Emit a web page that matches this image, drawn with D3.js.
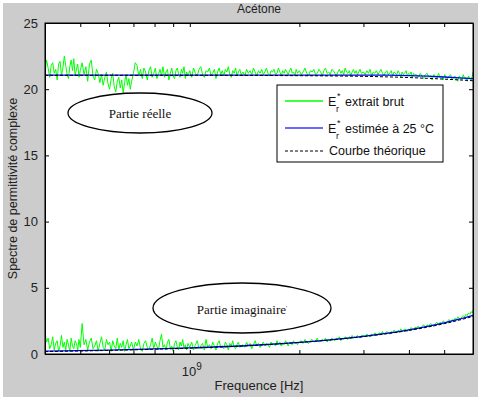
<!DOCTYPE html>
<html lang="fr">
<head>
<meta charset="utf-8">
<title>Acétone</title>
<script src="https://d3js.org/d3.v7.min.js"></script>
<style>
  body { margin: 0; background: #fff; }
  svg { display: block; font-family: "Liberation Sans", Arial, sans-serif; }
  .axis path { stroke: #000; }
  .axis line { stroke: #000; }
  .axis text { font-size: 13px; fill: #222; }
</style>
</head>
<body>
<script>
// frequencies of the raw measurement (MHz)
var freqMHz = [
  400,404,408,412,416,420,424,428,432,436,440,444,448,452,456,460,464,468,472,476,480,484,488,492,496,
  500,506,512,518,524,530,536,542,548,554,560,566,572,578,584,590,596,602,608,614,620,626,632,638,644,650,656,662,668,674,680,686,692,
  700,708,716,724,732,740,748,756,764,772,780,788,796,804,812,820,828,836,844,852,860,868,876,884,892,900,908,916,924,932,940,948,956,964,972,980,988,
  1000,1012,1024,1036,1048,1060,1072,1084,1096,1108,1120,1132,1144,1156,1168,1180,1192,1204,1216,1228,1240,1252,1264,1276,1288,1300,1312,1324,1336,1348,1360,1372,1384,
  1400,1416,1432,1448,1464,1480,1496,1512,1528,1544,1560,1576,1592,1608,1624,1640,1656,1672,1688,1704,1720,1736,1752,1768,1784,1800,1816,1832,1848,1864,1880,1896,1912,1928,1944,1960,1976,
  2000,2024,2048,2072,2096,2120,2144,2168,2192,2216,2240,2264,2288,2312,2336,2360,2384,2408,2432,2456,2480,2504,2528,2552,2576,2600,2624,2648,2672,2696,2720,2744,2768,2792,2816,2840,2864,2888,2912,2936,2960,
  3000,3032,3064,3096,3128,3160,3192,3224,3256,3288,3320,3352,3384,3416,3448,3480,3512,3544,3576,3608,3640,3672,3704,3736,3768,3800,3832,3864,3896,3928,3960,3992,4024,4056,4088,4120,4152,
  4200,4248,4296,4344,4392,4440,4488,4536,4584,4632,4680,4728,4776,4824,4872,4920,4968,5016,5064,5112,5160,5208,5256,5304,5352,5400,5448,5496,5544,5592,5640,5688,5736,5784,5832,5880,5928,5976,6000
];

// E_r* extrait brut, partie réelle
var rawReal = [
  21.3,22.2,21.6,20.9,21.8,22.0,21.2,21.5,20.7,21.9,22.1,21.0,21.6,22.5,21.8,21.1,20.8,21.7,22.2,21.4,22.3,21.0,21.5,21.9,20.9,
  21.4,22.0,21.1,21.7,20.6,21.9,22.2,21.0,20.7,21.5,21.2,20.5,
  21.1,20.3,20.9,21.3,20.4,20.0,20.8,21.2,20.2,19.8,20.6,20.9,20.1,20.7,19.7,20.5,21.1,20.3,20.8,20.0,20.6,
  21.2,22.0,21.8,21.0,21.5,20.8,21.6,21.3,20.7,21.4,21.7,20.9,21.2,21.6,20.8,21.1,21.5,21.0,21.7,20.9,21.3,21.5,20.7,21.2,21.6,21.0,20.8,21.4,21.6,21.1,20.9,21.5,21.2,21.7,20.8,21.3,21.0,
  21.4,20.9,21.6,21.2,21.0,21.5,21.7,21.1,20.9,21.4,21.3,21.6,21.0,21.2,21.5,20.8,21.3,21.6,21.1,21.4,21.0,21.5,21.3,21.7,21.1,20.9,21.4,21.2,21.6,21.0,21.3,21.5,21.1,
  21.3,21.0,21.5,21.2,21.4,21.1,21.6,21.3,21.0,21.4,21.2,21.5,21.1,21.3,21.6,21.2,21.0,21.4,21.3,21.5,21.1,21.2,21.6,21.3,21.0,21.4,21.2,21.5,21.3,21.1,21.4,21.6,21.2,21.3,21.0,21.5,21.2,
  21.4,21.1,21.3,21.6,21.2,21.0,21.4,21.3,21.5,21.1,21.2,21.5,21.3,21.0,21.4,21.6,21.2,21.3,21.1,21.5,21.4,21.2,21.0,21.3,21.5,21.2,21.4,21.1,21.6,21.3,21.2,21.4,21.0,21.3,21.5,21.2,21.4,21.1,21.3,21.5,21.2,
  21.3,21.1,21.4,21.2,21.5,21.0,21.3,21.2,21.4,21.1,21.3,21.5,21.2,21.0,21.3,21.4,21.1,21.2,21.4,21.0,21.3,21.2,21.1,21.4,21.2,20.9,21.3,21.1,21.2,21.4,21.0,21.2,21.1,21.3,20.9,21.2,21.1,
  21.1,20.9,21.2,21.0,20.8,21.1,21.2,20.9,21.0,20.7,21.1,21.0,20.8,21.2,20.9,21.0,20.7,21.1,20.9,20.8,21.0,21.1,20.7,20.9,21.0,20.8,20.6,21.0,20.9,20.7,21.1,20.8,20.9,20.6,21.0,20.8,20.7,21.0,21.3
];

// E_r* extrait brut, partie imaginaire
var rawImag = [
  1.6,0.9,1.2,0.4,0.7,1.3,0.3,0.8,1.0,0.2,0.6,1.4,0.5,0.9,0.3,1.1,0.7,0.2,1.2,0.6,0.4,1.0,0.8,0.3,1.1,
  0.5,2.3,0.7,1.1,0.3,0.9,1.2,0.4,0.6,1.0,0.2,0.8,1.3,0.5,0.3,1.1,0.7,0.9,0.2,1.0,0.6,0.4,1.2,0.3,0.8,0.5,1.0,0.2,0.7,1.1,0.4,0.6,0.9,
  0.3,0.9,0.6,1.1,0.4,0.2,0.8,1.0,0.5,0.3,0.7,1.2,0.4,0.9,0.6,0.3,1.0,1.5,0.5,0.7,0.3,0.9,1.1,0.4,0.6,0.2,0.8,1.0,0.5,0.3,0.9,0.6,1.1,0.4,0.7,0.3,0.8,
  0.5,0.9,0.3,0.7,1.0,0.4,0.6,0.8,0.3,1.1,0.5,0.7,0.4,0.9,0.6,0.3,0.8,1.0,0.5,0.6,0.4,0.9,0.7,0.3,0.8,0.6,1.0,0.5,0.4,0.7,0.9,0.5,0.6,
  0.7,0.5,0.9,0.6,0.8,0.4,0.7,1.0,0.6,0.8,0.5,0.7,0.9,0.6,0.8,0.7,0.5,0.9,0.7,0.8,0.6,1.0,0.7,0.9,0.6,0.8,0.7,1.0,0.8,0.6,0.9,0.8,0.7,1.0,0.8,0.9,0.7,
  0.9,1.0,0.8,1.1,0.9,0.8,1.0,1.1,0.9,1.0,1.2,0.9,1.0,1.1,1.0,1.2,0.9,1.1,1.0,1.2,1.1,1.0,1.2,1.1,1.3,1.0,1.2,1.1,1.3,1.2,1.1,1.3,1.2,1.4,1.2,1.3,1.2,1.4,1.3,1.2,1.4,
  1.4,1.3,1.5,1.4,1.3,1.5,1.4,1.6,1.5,1.4,1.6,1.5,1.7,1.5,1.6,1.7,1.6,1.5,1.7,1.6,1.8,1.7,1.6,1.8,1.7,1.9,1.7,1.8,1.9,1.8,1.7,1.9,1.8,2.0,1.9,1.8,2.0,
  2.0,2.1,1.9,2.1,2.2,2.0,2.2,2.1,2.3,2.2,2.1,2.3,2.4,2.2,2.4,2.3,2.5,2.4,2.3,2.5,2.6,2.4,2.6,2.5,2.7,2.6,2.8,2.7,2.6,2.8,2.9,2.8,3.0,2.9,3.1,3.0,3.2,3.1,3.3
];

// smooth curves: estimée à 25 °C and théorique
var fitMHz   = [400,600,800,1000,1500,2000,2500,3000,3500,4000,4500,5000,5500,6000];
var estReal  = [21.07,21.07,21.07,21.07,21.07,21.07,21.07,21.07,21.06,21.03,20.98,20.92,20.86,20.80];
var estImag  = [0.22,0.30,0.38,0.46,0.66,0.88,1.10,1.33,1.57,1.82,2.08,2.35,2.63,2.92];
var theoReal = [21.05,21.05,21.05,21.05,21.04,21.02,21.00,20.97,20.93,20.88,20.82,20.76,20.70,20.64];
var theoImag = [0.18,0.27,0.36,0.44,0.65,0.87,1.09,1.31,1.54,1.78,2.03,2.29,2.56,2.84];

var yTicks = [0, 5, 10, 15, 20, 25];
var xTicks = [5e8, 6e8, 7e8, 8e8, 9e8, 1e9, 2e9, 3e9, 4e9, 5e9];

var width = 480, height = 398;
var mLeft = 45, mRight = 473, mTop = 23, mBottom = 354;

var svg = d3.select("body").append("svg")
    .attr("width", width)
    .attr("height", height);

// figure background
svg.append("rect")
    .attr("x", 3).attr("y", 3)
    .attr("width", 475).attr("height", 394)
    .attr("fill", "#cccccc");

svg.append("rect")
    .attr("x", mLeft).attr("y", mTop)
    .attr("width", mRight - mLeft).attr("height", mBottom - mTop)
    .attr("fill", "#fff");

var x = d3.scaleLog().domain([4e8, 6e9]).range([mLeft, mRight]);
var y = d3.scaleLinear().domain([0, 25]).range([mBottom, mTop]);

svg.append("clipPath").attr("id", "clip")
  .append("rect")
    .attr("x", mLeft).attr("y", mTop)
    .attr("width", mRight - mLeft).attr("height", mBottom - mTop);

var plot = svg.append("g").attr("clip-path", "url(#clip)");

function lineOf(fs, vs) {
  return d3.line()
      .x(function(d, i) { return x(fs[i] * 1e6); })
      .y(function(d) { return y(d); })(vs);
}
function smoothOf(fs, vs) {
  return d3.line()
      .curve(d3.curveMonotoneX)
      .x(function(d, i) { return x(fs[i] * 1e6); })
      .y(function(d) { return y(d); })(vs);
}

// raw (green)
[rawReal, rawImag].forEach(function(s) {
  plot.append("path")
      .attr("d", lineOf(freqMHz, s))
      .attr("fill", "none")
      .attr("stroke", "#00ff00")
      .attr("stroke-width", 1);
});
// estimated (blue)
[estReal, estImag].forEach(function(s) {
  plot.append("path")
      .attr("d", smoothOf(fitMHz, s))
      .attr("fill", "none")
      .attr("stroke", "#0000ff")
      .attr("stroke-width", 1.3);
});
// theoretical (dashed black)
[theoReal, theoImag].forEach(function(s) {
  plot.append("path")
      .attr("d", smoothOf(fitMHz, s))
      .attr("fill", "none")
      .attr("stroke", "#000")
      .attr("stroke-width", 1)
      .attr("stroke-dasharray", "3,2");
});

// axes
svg.append("g").attr("class", "axis")
    .attr("transform", "translate(0," + mBottom + ")")
    .call(d3.axisBottom(x).tickValues(xTicks).tickSizeInner(-4).tickSizeOuter(0).tickFormat(""));
svg.append("g").attr("class", "axis")
    .attr("transform", "translate(0," + mTop + ")")
    .call(d3.axisTop(x).tickValues(xTicks).tickSizeInner(-4).tickSizeOuter(0).tickFormat(""));
svg.append("g").attr("class", "axis")
    .attr("transform", "translate(" + mLeft + ",0)")
    .call(d3.axisLeft(y).tickValues(yTicks).tickSizeInner(-4).tickSizeOuter(0).tickPadding(7));
svg.append("g").attr("class", "axis")
    .attr("transform", "translate(" + mRight + ",0)")
    .call(d3.axisRight(y).tickValues(yTicks).tickSizeInner(-4).tickSizeOuter(0).tickFormat(""));

svg.append("rect")
    .attr("x", mLeft).attr("y", mTop)
    .attr("width", mRight - mLeft).attr("height", mBottom - mTop)
    .attr("fill", "none").attr("stroke", "#000").attr("stroke-width", 1);

// 10^9 label
var lab = svg.append("text")
    .attr("x", x(1e9) - 8).attr("y", 376)
    .attr("font-size", 13).attr("fill", "#222");
lab.append("tspan").text("10");
lab.append("tspan").attr("dy", -6).attr("font-size", 10).text("9");

// titles
svg.append("text")
    .attr("x", (mLeft + mRight) / 2).attr("y", 13)
    .attr("text-anchor", "middle").attr("font-size", 12).attr("fill", "#222")
    .text("Acétone");
svg.append("text")
    .attr("x", (mLeft + mRight) / 2).attr("y", 390)
    .attr("text-anchor", "middle").attr("font-size", 13).attr("fill", "#222")
    .text("Frequence [Hz]");
svg.append("text")
    .attr("transform", "translate(17," + ((mTop + mBottom) / 2) + ") rotate(-90)")
    .attr("text-anchor", "middle").attr("font-size", 12.5).attr("fill", "#222")
    .text("Spectre de permittivité complexe");

// annotation ellipses
svg.append("ellipse")
    .attr("cx", 140).attr("cy", 113).attr("rx", 72).attr("ry", 20)
    .attr("fill", "#fff").attr("stroke", "#000").attr("stroke-width", 1.3);
svg.append("text")
    .attr("x", 140).attr("y", 118)
    .attr("text-anchor", "middle")
    .attr("font-family", "'Liberation Serif', 'Times New Roman', serif")
    .attr("font-size", 13).attr("fill", "#111")
    .text("Partie réelle");

svg.append("ellipse")
    .attr("cx", 242).attr("cy", 308).attr("rx", 89).attr("ry", 25)
    .attr("fill", "#fff").attr("stroke", "#000").attr("stroke-width", 1.3);
var im = svg.append("text")
    .attr("x", 242).attr("y", 314)
    .attr("text-anchor", "middle")
    .attr("font-family", "'Liberation Serif', 'Times New Roman', serif")
    .attr("font-size", 13).attr("fill", "#111");
im.append("tspan").text("Partie imaginaire");
im.append("tspan").attr("dy", -4).attr("font-size", 6).text("'");

// legend
var leg = svg.append("g");
leg.append("rect")
    .attr("x", 277).attr("y", 85).attr("width", 166).attr("height", 77)
    .attr("fill", "#fff").attr("stroke", "#000").attr("stroke-width", 1);

var legItems = [
  {color: "#00ff00", w: 1.3, y: 101, label: "extrait brut"},
  {color: "#6a6aff", w: 2, y: 128, label: "estimée à 25 °C"}
];
legItems.forEach(function(d) {
  leg.append("line")
      .attr("x1", 285).attr("x2", 323).attr("y1", d.y).attr("y2", d.y)
      .attr("stroke", d.color).attr("stroke-width", d.w);
  var t = leg.append("text")
      .attr("x", 328).attr("y", d.y + 5)
      .attr("font-size", 12.5).attr("fill", "#111");
  t.append("tspan").text("E");
  t.append("tspan").attr("x", 337).attr("dy", -7).attr("font-size", 9).text("*");
  t.append("tspan").attr("x", 336).attr("dy", 13).attr("font-size", 9).text("r");
  t.append("tspan").attr("x", 345).attr("dy", -6).text(d.label);
});
leg.append("line")
    .attr("x1", 285).attr("x2", 323).attr("y1", 151).attr("y2", 151)
    .attr("stroke", "#000").attr("stroke-width", 1).attr("stroke-dasharray", "3,2");
leg.append("text")
    .attr("x", 329).attr("y", 155)
    .attr("font-size", 12.5).attr("fill", "#111")
    .text("Courbe théorique");
</script>
</body>
</html>
